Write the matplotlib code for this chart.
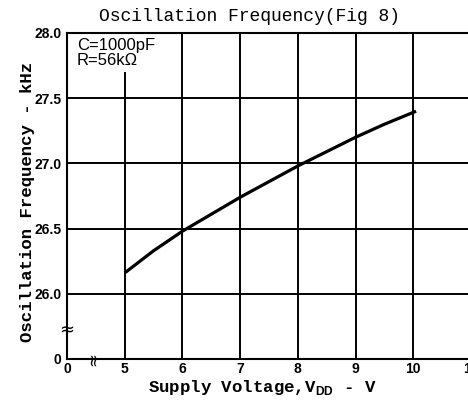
import numpy as np
import matplotlib
matplotlib.use("Agg")
import matplotlib.pyplot as plt

# curve (V_DD in volts, frequency in kHz)
vdd = [5.0, 5.5, 6.0, 6.5, 7.0, 7.5, 8.0, 8.5, 9.0, 9.5, 10.05]
freq = [26.16, 26.33, 26.48, 26.61, 26.74, 26.86, 26.98, 27.09, 27.20, 27.30, 27.40]

x_ticks = [0, 5, 6, 7, 8, 9, 10, 11]
y_ticks = [0, 26.0, 26.5, 27.0, 27.5, 28.0]
y_labels = ["0", "26.0", "26.5", "27.0", "27.5", "28.0"]


# broken axes: 0..5 V squeezed into one unit, 0..26 kHz into one unit
def fwd_x(v):
    v = np.asarray(v, float)
    return np.where(v >= 5, v, 4 + v / 5)


def inv_x(p):
    p = np.asarray(p, float)
    return np.where(p >= 5, p, (p - 4) * 5)


def fwd_y(f):
    f = np.asarray(f, float)
    return np.where(f >= 26, 1 + (f - 26) * 2, f / 26)


def inv_y(p):
    p = np.asarray(p, float)
    return np.where(p >= 1, 26 + (p - 1) / 2, p * 26)


plt.rcParams['mathtext.fontset'] = 'custom'
plt.rcParams['mathtext.rm'] = 'Liberation Sans:bold'

fig = plt.figure(figsize=(4.68, 4.04), dpi=100)
ax = fig.add_axes([0.1432, 0.1114, 0.863, 0.807])
ax.set_xscale('function', functions=(fwd_x, inv_x))
ax.set_yscale('function', functions=(fwd_y, inv_y))
ax.set_xlim(0, 11)
ax.set_ylim(0, 28)

ax.plot(vdd, freq, color='black', lw=2.3, solid_capstyle='butt')

ax.set_xticks(x_ticks)
ax.set_xticklabels([str(t) for t in x_ticks])
ax.set_yticks(y_ticks)
ax.set_yticklabels(y_labels)
ax.minorticks_off()
ax.tick_params(length=0, labelsize=10)
ax.tick_params(axis='y', pad=4)
ax.tick_params(axis='x', pad=2)
for lab in ax.get_xticklabels() + ax.get_yticklabels():
    lab.set_family('Liberation Sans')
    lab.set_weight('bold')

ax.set_axisbelow(True)
ax.grid(True, color='black', lw=1.4)
for s in ax.spines.values():
    s.set_linewidth(1.5)

ax.text(0.025, 0.985, "C=1000pF\nR=56k\u03a9", transform=ax.transAxes,
        ha='left', va='top', family='Liberation Sans', fontsize=12,
        linespacing=1.05, zorder=2,
        bbox=dict(facecolor='white', edgecolor='none', pad=2.5))

# break marks
ax.text(2.2, 0, "\u2248", rotation=90, ha='center', va='center',
        fontsize=12, family='DejaVu Sans', clip_on=False)
ax.text(0, 11.5, "\u2248", ha='center', va='center',
        fontsize=13, family='DejaVu Sans', clip_on=False)

fig.text(0.534, 0.958, "Oscillation Frequency(Fig 8)", ha='center', va='center',
         family='Liberation Mono', fontsize=13)
fig.text(0.058, 0.5, "Oscillation Frequency - kHz", rotation=90,
         ha='center', va='center', family='Liberation Mono',
         fontweight='bold', fontsize=12.5)
fig.text(0.56, 0.042, r"Supply Voltage,V$_\mathrm{DD}$ - V", ha='center',
         va='center', family='Liberation Mono', fontweight='bold', fontsize=12.5)

fig.savefig("out.png", dpi=100)
